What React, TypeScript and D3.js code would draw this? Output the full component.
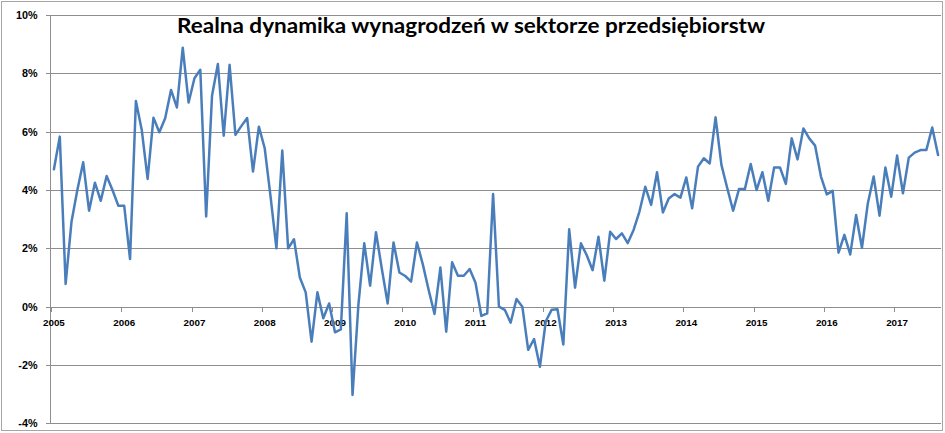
import * as d3 from "d3";

// monthly real wage growth, % y/y (Jan 2005 - Aug 2017)
const wages2005 = [4.71, 5.83, 0.78, 2.91, 4.0, 4.95, 3.29, 4.25, 3.63, 4.48, 4.0, 3.46];
const wages2006 = [3.46, 1.63, 7.05, 6.06, 4.38, 6.48, 5.98, 6.46, 7.43, 6.83, 8.88, 7.0];
const wages2007 = [7.83, 8.12, 3.09, 7.23, 8.32, 5.86, 8.29, 5.89, 6.19, 6.47, 4.63, 6.17];
const wages2008 = [5.43, 3.77, 2.0, 5.35, 2.0, 2.31, 1.0, 0.49, -1.2, 0.49, -0.4, 0.11];
const wages2009 = [-0.88, -0.78, 3.2, -3.03, 0.06, 2.17, 0.72, 2.55, 1.3, 0.11, 2.2, 1.17];
const wages2010 = [1.05, 0.86, 2.2, 1.45, 0.57, -0.25, 1.34, -0.86, 1.52, 1.06, 1.06, 1.29];
const wages2011 = [0.82, -0.32, -0.23, 3.86, 0.0, -0.11, -0.55, 0.26, 0.0, -1.48, -1.11, -2.06];
const wages2012 = [-0.5, -0.11, -0.09, -1.3, 2.65, 0.65, 2.17, 1.76, 1.25, 2.4, 0.89, 2.57];
const wages2013 = [2.32, 2.51, 2.18, 2.63, 3.26, 4.11, 3.49, 4.61, 3.23, 3.71, 3.86, 3.74];
const wages2014 = [4.43, 3.37, 4.8, 5.09, 4.91, 6.49, 4.86, 4.06, 3.29, 4.03, 4.03, 4.89];
const wages2015 = [4.0, 4.61, 3.63, 4.77, 4.77, 4.21, 5.77, 5.05, 6.11, 5.77, 5.52, 4.46];
const wages2016 = [3.85, 3.97, 1.85, 2.46, 1.79, 3.14, 2.02, 3.54, 4.46, 3.12, 4.77, 3.77];
const wages2017 = [5.18, 3.89, 5.11, 5.28, 5.37, 5.37, 6.14, 5.2];

const years = [2005, 2006, 2007, 2008, 2009, 2010, 2011, 2012, 2013, 2014, 2015, 2016, 2017];
const yTicks = [-4, -2, 0, 2, 4, 6, 8, 10];

const values = [
  ...wages2005, ...wages2006, ...wages2007, ...wages2008, ...wages2009,
  ...wages2010, ...wages2011, ...wages2012, ...wages2013, ...wages2014,
  ...wages2015, ...wages2016, ...wages2017,
];

const W = 945;
const H = 433;
const TITLE = "Realna dynamika wynagrodzeń w sektorze przedsiębiorstw";

export default function App() {
  const x = d3.scaleBand<number>().domain(d3.range(values.length)).range([51, 941]);
  const y = d3.scaleLinear().domain([-4, 10]).range([423.3, 15]);
  const bw = x.bandwidth();
  const line = d3
    .line<number>()
    .x((_, i) => x(i)! + bw / 2)
    .y(d => y(d));

  const grid = "#8e8e8e";
  const crisp = (v: number) => Math.round(v) + 0.5;
  const y0 = crisp(y(0));

  return (
    <svg
      width={W}
      height={H}
      style={{ position: "fixed", left: 0, top: 0, display: "block", background: "#fff" }}
      fontFamily="'Liberation Sans', Arial, sans-serif"
    >
      <rect x={1.5} y={1.5} width={941} height={429} fill="#fff" stroke="#a6a6a6" />

      {yTicks.map(t => (
        <g key={t}>
          <line x1={46} x2={941} y1={crisp(y(t))} y2={crisp(y(t))} stroke={grid} />
          <text
            x={37.5}
            y={y(t)}
            textAnchor="end"
            dominantBaseline="central"
            fontSize={10.8}
            fontWeight="bold"
            fill="#000"
          >
            {t}%
          </text>
        </g>
      ))}

      <line x1={50.5} x2={50.5} y1={crisp(y(10))} y2={crisp(y(-4))} stroke={grid} />

      {years.map((yr, k) => {
        const i = k * 12;
        const tx = crisp(x(i)!);
        return (
          <g key={yr}>
            <line x1={tx} x2={tx} y1={y0} y2={y0 + 4.5} stroke={grid} />
            <text
              x={x(i)! + bw / 2}
              y={322}
              textAnchor="middle"
              dominantBaseline="central"
              fontSize={9.8}
              fontWeight="bold"
              fill="#000"
            >
              {yr}
            </text>
          </g>
        );
      })}

      <path
        d={line(values) ?? ""}
        fill="none"
        stroke="#4a7ebb"
        strokeWidth={2.5}
        strokeLinejoin="round"
        strokeLinecap="round"
      />

      <text
        x={471}
        y={32.5}
        textAnchor="middle"
        fontFamily="Lato, 'Open Sans', sans-serif"
        fontSize={21}
        fontWeight="bold"
        fill="#000"
        textLength={588}
        lengthAdjust="spacingAndGlyphs"
      >
        {TITLE}
      </text>
    </svg>
  );
}
